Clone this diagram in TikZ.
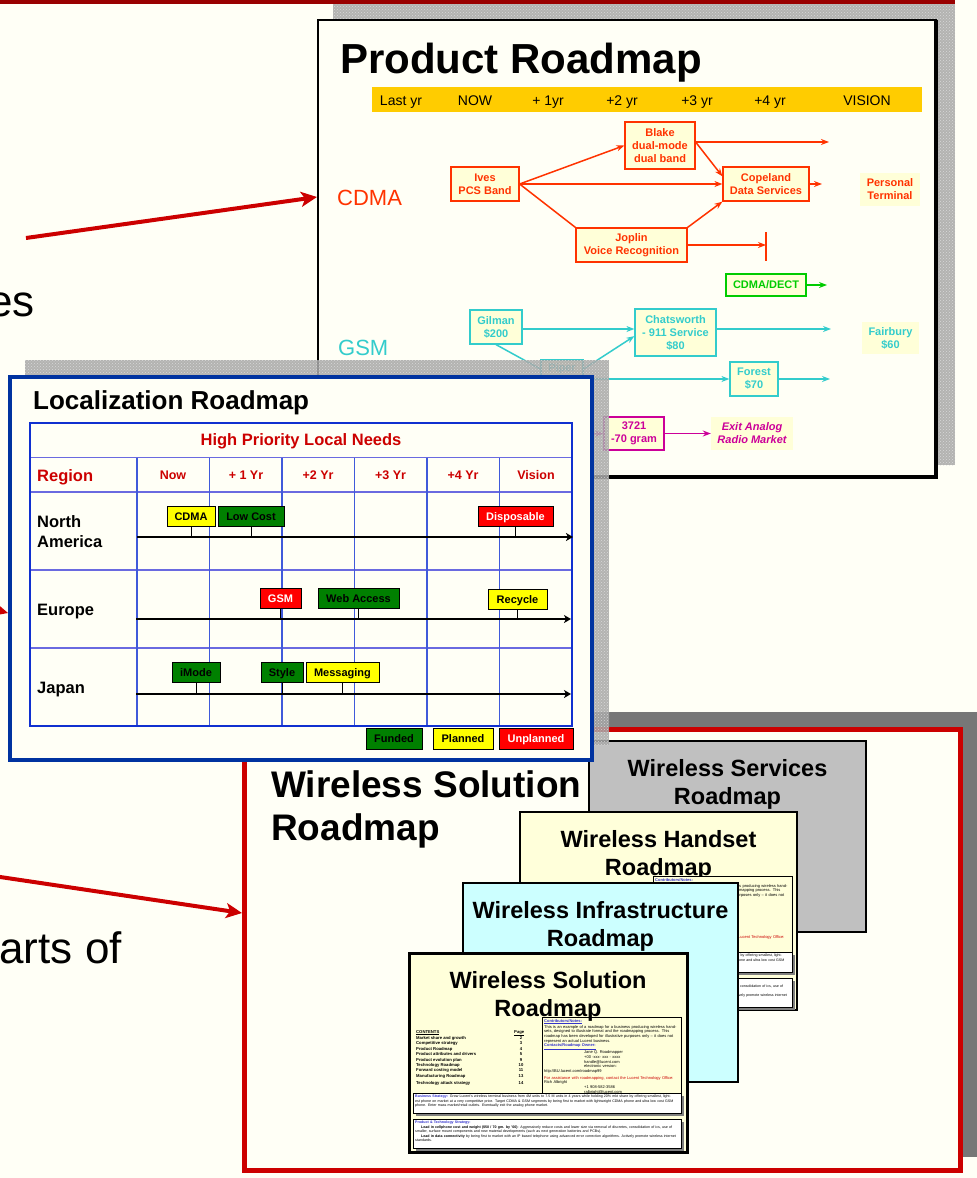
\documentclass[tikz,border=0pt]{standalone}
\usepackage{fontspec}
\setmainfont{Liberation Sans}
\usetikzlibrary{arrows.meta,patterns,calc}
\definecolor{bg}{HTML}{FFFFF6}
\definecolor{topred}{HTML}{990000}
\definecolor{arrowred}{HTML}{CC0000}
\definecolor{cdma}{HTML}{FF3300}
\definecolor{boxfill}{HTML}{FFFFD8}
\definecolor{gsm}{HTML}{33CCCC}
\definecolor{dect}{HTML}{00CC00}
\definecolor{mag}{HTML}{CC0099}
\definecolor{yrbar}{HTML}{FFCC00}
\definecolor{locblue}{HTML}{0033A0}
\definecolor{tblue}{HTML}{1030D0}
\definecolor{gridblue}{HTML}{6A6AE0}
\definecolor{hdrred}{HTML}{CC0000}
\definecolor{fund}{HTML}{008000}
\definecolor{plan}{HTML}{FFFF00}
\definecolor{unplan}{HTML}{FF0000}
\definecolor{shgray}{HTML}{777777}
\definecolor{svcgray}{HTML}{C0C0C0}
\definecolor{cardyel}{HTML}{FFFFDA}
\definecolor{cardcyan}{HTML}{CCFFFF}
\definecolor{linkblue}{HTML}{3333CC}
\definecolor{texgray}{HTML}{A6A6A6}
\definecolor{texdot}{HTML}{E2E2E2}
\newcommand\fsz[2]{\fontsize{#1}{#2}\selectfont}
\tikzset{
 pbox/.style={draw=#1, line width=1.2pt, fill=boxfill, text=#1, font=\bfseries\fsz{11}{13}, align=center, inner sep=0pt},
 pnob/.style={fill=boxfill, text=#1, font=\bfseries\fsz{11}{13}, align=center, inner sep=0pt},
 parr/.style={draw=#1, line width=1.5pt, -{Stealth[length=8pt,width=6pt]}},
 bigarrow/.style={draw=arrowred, line width=4pt, -{Stealth[length=16pt,width=15pt,inset=4pt]}},
 yrlabel/.style={font=\fsz{14}{16}, anchor=base, inner sep=0pt},
 msbox/.style={draw=black, line width=0.9pt, fill=#1, font=\bfseries\fsz{11}{12}, inner sep=0pt, minimum height=20pt, text height=8pt, text depth=0pt},
 stemline/.style={black, line width=0.9pt},
 tlarrow/.style={black, line width=2.2pt, -{Stealth[length=7pt,width=8pt,inset=2pt]}},
 card/.style={draw=black, line width=2.5pt, fill=#1, inner sep=0pt},
 cardtitle/.style={font=\bfseries\fsz{23.5}{28}, align=center, inner sep=0pt},
 hdr/.style={text=hdrred, font=\bfseries\fsz{12.5}{14}, inner sep=0pt},
 rowlab/.style={font=\bfseries\fsz{16.5}{20}, anchor=base west, inner sep=0pt},
 tinytxt/.style={inner sep=0pt, anchor=base west},
 texbase/.style={fill=texgray, fill opacity=0.85},
 texdots/.style={pattern=crosshatch dots, pattern color=texdot, fill opacity=0.8},
}
\newcommand\cardinner[1]{%
 \node[tinytxt, font=\bfseries\fsz{4.2}{5}] (#1ct) at (7,80) {\underline{CONTENTS}};
 \node[tinytxt, font=\bfseries\fsz{4.2}{5}] (#1pg) at (105,80) {\underline{Page}};
 \foreach \t/\p/\yy [count=\i] in {Market share and growth/2/86, Competitive strategy/3/91, Product Roadmap/4/97, Product attributes and drivers/5/102, Product evolution plan/9/108, Technology Roadmap/10/113, Forward costing model/11/118, Manufacturing Roadmap/13/124, Technology attack strategy/14/131}{%
   \node[tinytxt, font=\bfseries\fsz{4.2}{5}] (#1it\i) at (7,\yy) {\t};
   \node[inner sep=0pt, anchor=base, font=\bfseries\fsz{4.2}{5}] (#1pn\i) at (112,\yy) {\p};
 }
 \node[draw=black, line width=0.6pt, fill=cardyel, minimum width=139pt, minimum height=78pt, inner sep=0pt] (#1cb) at (202.5,103) {};
 \node[anchor=north west, text width=133pt, align=left, font=\fsz{4}{4.7}, inner sep=0pt] (#1cbt) at (135,66) {%
 {\bfseries\color{linkblue}\underline{Contributors/Notes:}}\\
 This is an example of a roadmap for a business producing wireless handsets, designed to illustrate format and the roadmapping process. This roadmap has been developed for illustrative purposes only -- it does not represent an actual Lucent business.\\
 {\bfseries\color{linkblue}\underline{Contacts/Roadmap Owner:}}\\
 \hspace*{40pt}Jane Q. Roadmapper\\
 \hspace*{40pt}+00 -xxx- xxx - xxxx\\
 \hspace*{40pt}handle@lucent.com\\
 \hspace*{40pt}electronic version:\\
 http://BU.lucent.com/roadmap99\\[2pt]
 {\color{arrowred}For assistance with roadmapping, contact the Lucent Technology Office:} Rich Albright\\
 \hspace*{40pt}+1 908-582-3586\\
 \hspace*{40pt}ralbright@lucent.com};
 \fill[gray] (7,143) rectangle (275,163);
 \node[draw=black, line width=0.6pt, fill=white, minimum width=268pt, minimum height=20pt, inner sep=0pt] (#1bb) at (138,150) {};
 \node[anchor=north west, text width=264pt, align=left, font=\fsz{3.6}{4.4}, inner sep=0pt] (#1bbt) at (6,142) {{\bfseries\color{linkblue}Business Strategy:} Grow Lucent's wireless terminal business from 4M units to 7.5 M units in 4 years while holding 20\% mkt share by offering smallest, lightest phone on market at a very competitive price. Target CDMA \& GSM segments by being first to market with lightweight CDMA phone and ultra low cost GSM phone. Enter mass market/retail outlets. Eventually exit the analog phone market.};
 \fill[gray] (7,169) rectangle (275,198);
 \node[draw=black, line width=0.6pt, fill=white, minimum width=268pt, minimum height=29pt, inner sep=0pt] (#1pb) at (138,180.5) {};
 \node[anchor=north west, text width=264pt, align=left, font=\fsz{3.6}{4.4}, inner sep=0pt] (#1pbt) at (6,168) {{\bfseries\color{linkblue}Product \& Technology Strategy:}\\
 \hspace*{6pt}{\bfseries Lead in cellphone cost and weight (\$50 / 70 gm. by '00)}: Aggressively reduce costs and lower size via removal of discretes, consolidation of ics, use of smaller, surface mount components and new material developments (such as next generation batteries and PCBs).\\
 \hspace*{6pt}{\bfseries Lead in data connectivity} by being first to market with an IP based telephone using advanced error correction algorithms. Actively promote wireless internet standards.};
}
\begin{document}
\begin{tikzpicture}[x=1pt,y=-1pt]
\useasboundingbox (0,0) rectangle (977,1178);
\clip (0,0) rectangle (977,1178);
% background
\fill[bg] (0,0) rectangle (977,1178);
\fill[topred] (0,0) rectangle (955,4);
% partial left texts
\node[anchor=base east, font=\fsz{44}{50}, inner sep=0pt] (txtes) at (35,316) {es};
\node[anchor=base east, font=\fsz{44}{50}, inner sep=0pt] (txtarts) at (122,963) {arts of};

% ===== Product Roadmap slide =====
\fill[texbase] (333,4) rectangle (955,465);
\fill[texdots] (333,4) rectangle (955,465);
\node[draw=black, line width=2pt, fill=bg, minimum width=618pt, minimum height=456pt, inner sep=0pt] (prframe) at (627,248) {};
\draw[black, line width=4pt] (936,20) -- (936,477) -- (318,477);
\node[anchor=base west, font=\bfseries\fsz{42}{48}, inner sep=0pt] (prtitle) at (340,73) {Product Roadmap};
\node[fill=yrbar, minimum width=550pt, minimum height=25pt, inner sep=0pt] (yrbar) at (647,99.5) {};
\node[yrlabel] (yLast) at (401,105) {Last yr};
\node[yrlabel] (yNow) at (475,105) {NOW};
\node[yrlabel] (y1) at (548,105) {+ 1yr};
\node[yrlabel] (y2) at (622,105) {+2 yr};
\node[yrlabel] (y3) at (697,105) {+3 yr};
\node[yrlabel] (y4) at (770,105) {+4 yr};
\node[yrlabel] (yVis) at (867,105) {VISION};
\node[anchor=base west, text=cdma, font=\fsz{22}{24}, inner sep=0pt] (lCDMA) at (337,205) {CDMA};
\node[anchor=base west, text=gsm, font=\fsz{22}{24}, inner sep=0pt] (lGSM) at (338,355) {GSM};

\node[pbox=cdma, minimum width=70pt, minimum height=47pt] (Blake) at (660,145.5) {Blake\\dual-mode\\dual band};
\node[pbox=cdma, minimum width=68pt, minimum height=34pt] (Ives) at (485,184) {Ives\\PCS Band};
\node[pbox=cdma, minimum width=86pt, minimum height=34pt] (Copeland) at (766,184) {Copeland\\Data Services};
\node[pnob=cdma, minimum width=60pt, minimum height=33pt] (Personal) at (890,189.5) {Personal\\Terminal};
\node[pbox=cdma, minimum width=111pt, minimum height=34pt] (Joplin) at (631.5,245) {Joplin\\Voice Recognition};
\node[pbox=dect, minimum width=80pt, minimum height=22pt] (Dect) at (766,285) {CDMA/DECT};
\node[pbox=gsm, minimum width=52pt, minimum height=34pt] (Gilman) at (496,327) {Gilman\\\$200};
\node[pbox=gsm, minimum width=81pt, minimum height=47pt] (Chats) at (675.5,332.5) {Chatsworth\\- 911 Service\\\$80};
\node[pnob=gsm, minimum width=57pt, minimum height=32pt] (Fairbury) at (890.5,338) {Fairbury\\\$60};
\node[pbox=gsm, minimum width=48pt, minimum height=34pt] (Forest) at (754,379) {Forest\\\$70};
\node[pbox=gsm, minimum width=42pt, minimum height=18pt] (Piper) at (562,369) {Piper};
\node[pbox=mag, minimum width=60pt, minimum height=33pt] (N3721) at (634,433.5) {3721\\-70 gram};
\node[pnob=mag, font=\bfseries\itshape\fsz{11}{13}, minimum width=82pt, minimum height=33pt] (Exit) at (752,433.5) {Exit Analog\\Radio Market};

\coordinate (blakeEnd) at (829,142);
\coordinate (copEnd) at (822,184);
\coordinate (jStop) at (766,245);
\coordinate (jBarT) at (766,232);
\coordinate (jBarB) at (766,261);
\coordinate (dectEnd) at (827,285);
\coordinate (gsmY) at (0,329);
\coordinate (chEnd) at (831,329);
\coordinate (foEnd) at (830,379);
\coordinate (m0) at (585,434);
\draw[parr=cdma] (Ives.east) -- (Blake.west);
\draw[parr=cdma] (Ives.east) -- (Copeland.west);
\draw[cdma, line width=1.5pt] (Ives.east) -- (Joplin.north west);
\draw[parr=cdma] (Blake.east |- blakeEnd) -- (blakeEnd);
\draw[parr=cdma] (Blake.east |- blakeEnd) -- (Copeland.170);
\draw[parr=cdma] (Copeland.east) -- (copEnd);
\draw[parr=cdma] (Joplin.north east) -- (Copeland.south west);
\draw[parr=cdma] (Joplin.east) -- (jStop);
\draw[cdma, line width=1.5pt] (jBarT) -- (jBarB);
\draw[parr=dect] (Dect.east) -- (dectEnd);
\draw[parr=gsm] (Gilman.east |- gsmY) -- (Chats.west |- gsmY);
\draw[parr=gsm] (Chats.east |- gsmY) -- (chEnd);
\draw[gsm, line width=1.5pt] (Gilman.south) -- (Piper.west);
\draw[parr=gsm] (Piper.east) -- (Chats.185);
\draw[parr=gsm] (Piper.east |- Forest.west) -- (Forest.west);
\draw[parr=gsm] (Forest.east) -- (foEnd);
\draw[parr=mag] (m0) -- (N3721.west);
\draw[parr=mag] (N3721.east) -- (Exit.west);

% red arrow into product roadmap
\coordinate (a1s) at (26,238);
\coordinate (a1y) at (0,197);
\draw[bigarrow] (a1s) -- (prframe.west |- a1y);

% ===== Wireless Solution slide =====
\fill[shgray] (257,712) rectangle (977,1157);
\node[draw=arrowred, line width=5pt, fill=bg, minimum width=715.5pt, minimum height=440.5pt, inner sep=0pt] (wsframe) at (602.25,949.75) {};
\node[anchor=base west, font=\bfseries\fsz{37}{42}, inner sep=0pt] (wsT1) at (271,797) {Wireless Solution};
\node[anchor=base west, font=\bfseries\fsz{37}{42}, inner sep=0pt] (wsT2) at (271,840) {Roadmap};

\node[card=svcgray, minimum width=277pt, minimum height=191pt] (cSvc) at (727.5,836.5) {};
\node[cardtitle] (cSvcT) at (727.5,784) {Wireless Services\\Roadmap};

\node[card=cardyel, minimum width=277pt, minimum height=198pt] (cHand) at (658.5,911) {};
\node[cardtitle] (cHandT) at (658.5,855) {Wireless Handset\\Roadmap};
\begin{scope}[shift={(520,812)}]
\cardinner{h}
\end{scope}

\node[card=cardcyan, minimum width=275pt, minimum height=199pt] (cInf) at (600.5,982.5) {};
\node[cardtitle] (cInfT) at (600.5,926) {Wireless Infrastructure\\Roadmap};

\node[card=cardyel, line width=3pt, minimum width=278pt, minimum height=199pt] (cSol) at (548,1052.5) {};
\begin{scope}[shift={(409,953)}]
\cardinner{s}
\end{scope}
\node[cardtitle] (cSolT) at (548,996) {Wireless Solution\\Roadmap};

% red arrow into wireless frame
\coordinate (a2s) at (-30,872.5);
\coordinate (a2y) at (0,913);
\draw[bigarrow] (a2s) -- (wsframe.west |- a2y);

% ===== Localization Roadmap slide =====
\fill[texbase] (25,360) rectangle (609,745);
\fill[texdots] (25,360) rectangle (609,745);
\node[draw=locblue, line width=4pt, fill=bg, minimum width=582pt, minimum height=383pt, inner sep=0pt] (locframe) at (301,568.5) {};
\node[anchor=base west, font=\bfseries\fsz{26}{30}, inner sep=0pt] (locT) at (33,409) {Localization Roadmap};

\foreach \yy in {457.5,492,570,648} \draw[gridblue, line width=1.3pt] (30,\yy) -- (572,\yy);
\foreach \xx in {137,209.5,282,354.5,427,499.5} \draw[tblue!80, line width=1.2pt] (\xx,457.5) -- (\xx,726);
\draw[tblue, line width=2pt] (30,423) rectangle (572,726);

\node[text=hdrred, font=\bfseries\fsz{16.5}{18}, inner sep=0pt] (hpl) at (301,441) {High Priority Local Needs};
\node[anchor=base west, text=hdrred, font=\bfseries\fsz{16.5}{18}, inner sep=0pt] (hReg) at (37,481) {Region};
\node[hdr] (hNow) at (173,475) {Now};
\node[hdr] (h1) at (246,475) {+ 1 Yr};
\node[hdr] (h2) at (318,475) {+2 Yr};
\node[hdr] (h3) at (390.5,475) {+3 Yr};
\node[hdr] (h4) at (463,475) {+4 Yr};
\node[hdr] (hVis) at (536,475) {Vision};

\node[rowlab] (rNA1) at (37,527) {North};
\node[rowlab] (rNA2) at (37,547) {America};
\node[rowlab] (rEU) at (37,615) {Europe};
\node[rowlab] (rJP) at (37,693) {Japan};

\coordinate (naS) at (137,537); \coordinate (naE) at (573,537);
\coordinate (euS) at (136,619); \coordinate (euE) at (571,619);
\coordinate (jpS) at (136,694); \coordinate (jpE) at (571,694);
\draw[tlarrow] (naS) -- (naE);
\draw[tlarrow] (euS) -- (euE);
\draw[tlarrow] (jpS) -- (jpE);

\node[msbox=plan, minimum width=48pt] (mCDMA) at (191,516) {CDMA};
\node[msbox=fund, minimum width=66pt] (mLow) at (251,516) {Low Cost};
\node[msbox=unplan, minimum width=75pt, text=white] (mDisp) at (515.5,516) {Disposable};
\node[msbox=unplan, minimum width=41pt, text=white] (mGSM) at (280.5,598.5) {GSM};
\node[msbox=fund, minimum width=81pt] (mWeb) at (358.5,598.5) {Web Access};
\node[msbox=plan, minimum width=59pt] (mRec) at (517.5,599.5) {Recycle};
\node[msbox=fund, minimum width=48pt] (mIMode) at (196,672.5) {iMode};
\node[msbox=fund, minimum width=42pt] (mStyle) at (282,672.5) {Style};
\node[msbox=plan, minimum width=73pt] (mMsg) at (342.5,672.5) {Messaging};
\draw[stemline] (mCDMA.south) -- (mCDMA.south |- naS);
\draw[stemline] (mLow.south) -- (mLow.south |- naS);
\draw[stemline] (mDisp.south) -- (mDisp.south |- naS);
\draw[stemline] (mGSM.south) -- (mGSM.south |- euS);
\draw[stemline] (mWeb.south) -- (mWeb.south |- euS);
\draw[stemline] (mRec.south) -- (mRec.south |- euS);
\draw[stemline] (mIMode.south) -- (mIMode.south |- jpS);
\draw[stemline] (mStyle.south) -- (mStyle.south |- jpS);
\draw[stemline] (mMsg.south) -- (mMsg.south |- jpS);

\node[msbox=fund, minimum width=56pt, minimum height=21pt] (lgF) at (394,738.5) {Funded};
\node[msbox=plan, minimum width=60pt, minimum height=21pt] (lgP) at (463,738.5) {Planned};
\node[msbox=unplan, minimum width=74pt, minimum height=21pt, text=white] (lgU) at (536,738.5) {Unplanned};

% red arrow into localization frame
\coordinate (a3s) at (-40,600);
\coordinate (a3y) at (0,613);
\draw[bigarrow] (a3s) -- (locframe.west |- a3y);
\end{tikzpicture}
\end{document}
